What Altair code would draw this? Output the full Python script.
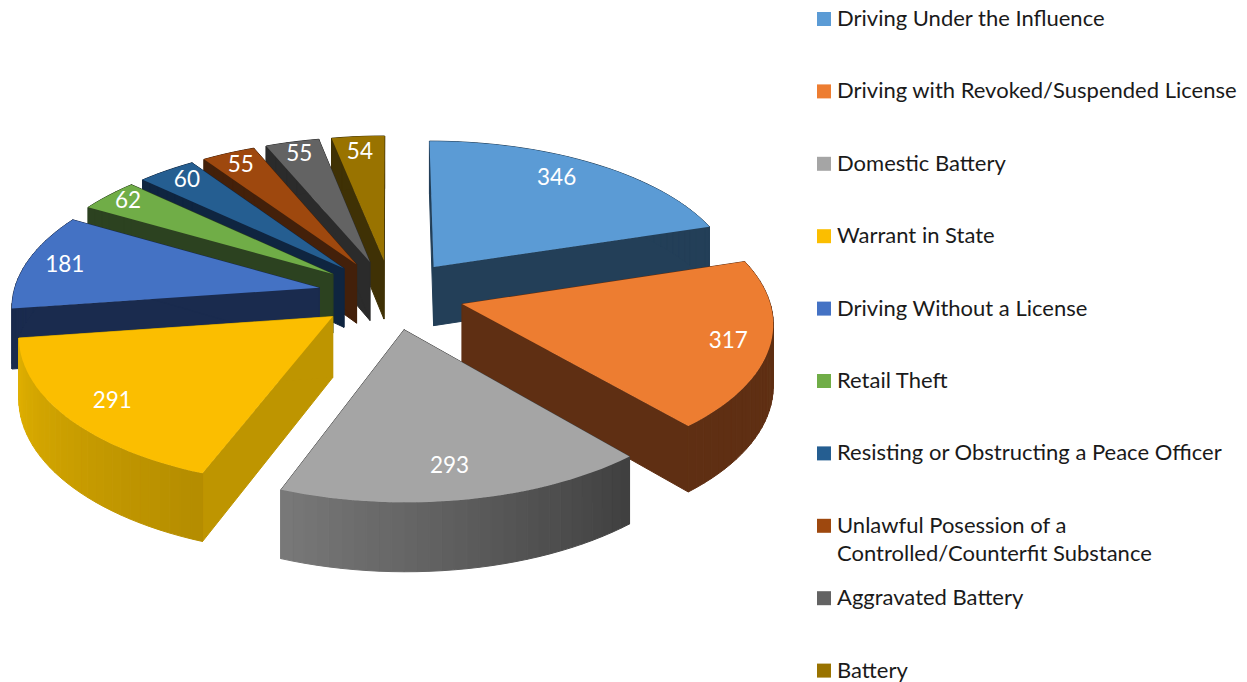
import math
import altair as alt

names = ["Driving Under the Influence", "Driving with Revoked/Suspended License", "Domestic Battery",
         "Warrant in State", "Driving Without a License", "Retail Theft",
         "Resisting or Obstructing a Peace Officer",
         "Unlawful Posession of a", "Aggravated Battery", "Battery"]
wrapped_line = "Controlled/Counterfit Substance"
values = [346, 317, 293, 291, 181, 62, 60, 55, 55, 54]
top_colors = ["#5B9BD5", "#ED7D31", "#A5A5A5", "#FBBE00", "#4472C4", "#70AD47", "#255E91", "#9E480E", "#636363", "#997300"]
radial_wall = ["#233F58", "#5F2F13", "#404040", "#BE9500", "#1A2B4E", "#2C4220", "#0F2540", "#43200A", "#2B2B2B", "#3F3105"]
wall_a = ["#233F58", "#5F2F13", "#404040", "#B58D00", "#1A2B4E", "#2C4220", "#0F2540", "#43200A", "#2B2B2B", "#3F3105"]
wall_b = ["#233F58", "#5F2F13", "#787878", "#E0B000", "#1A2B4E", "#2C4220", "#0F2540", "#43200A", "#2B2B2B", "#3F3105"]

# projection of the tilted 3-D pie
CX, CY, RX, RY, K, H, EX = 391.0, 293.4, 306.0, 145.3, 0.11, 60.0, 0.24
OFF = 8


def proj(X, Y, z=0.0):
    w = 1 / (1 - K * Y)
    return [CX + RX * X * w, CY + RY * Y * w + z * H * w]


def pt(ang, r, bis):
    a, b = math.radians(ang), math.radians(bis)
    return (EX * math.sin(b) + r * math.sin(a), -EX * math.cos(b) - r * math.cos(a))


def hexmix(c1, c2, t):
    p = [int(c1[i:i + 2], 16) for i in (1, 3, 5)]
    q = [int(c2[i:i + 2], 16) for i in (1, 3, 5)]
    return "#%02x%02x%02x" % tuple(round(p[i] + (q[i] - p[i]) * t) for i in range(3))


def feat(poly, **props):
    return {"type": "Feature", "geometry": {"type": "Polygon", "coordinates": [poly + [poly[0]]]}, "properties": props}


total = sum(values)
spans = []
acc = 0
for v in values:
    spans.append((acc / total * 360, (acc + v) / total * 360))
    acc += v

paint = [9, 8, 7, 6, 5, 0, 4, 1, 3, 2]
wall_feats, top_feats, labels = [], [], []
label_r = [0.80, 0.83, 0.82, 0.84, 0.85, 0.89, 0.865, 0.87, 0.86, 0.835]
label_nudge = [(-7, -5), (12, 2), (-5, 0), (0, 1), (-6, 0), (-4, -3), (-2, -3), (-3, -2), (-3, -3), (-2, -3)]
for i in paint:
    a0, a1 = spans[i]
    bis = (a0 + a1) / 2
    steps = max(4, int((a1 - a0) / 2))
    angs = [a0 + (a1 - a0) * s / steps for s in range(steps + 1)]
    apex = pt(0, 0, bis)
    for ang in (a0, a1):
        P = pt(ang, 1, bis)
        wall_feats.append(feat([proj(*apex), proj(*P), proj(*P, 1), proj(*apex, 1)], fill=radial_wall[i]))
    for s in range(steps):
        P, Q = pt(angs[s], 1, bis), pt(angs[s + 1], 1.0, bis)
        col = hexmix(wall_a[i], wall_b[i], s / max(1, steps - 1))
        wall_feats.append(feat([proj(*P), proj(*Q), proj(*Q, 1), proj(*P, 1)], fill=col))
    top = [proj(*apex)] + [proj(*pt(x, 1, bis)) for x in angs]
    top_feats.append(feat(top, name=names[i]))
    lx, ly = proj(*pt(bis, label_r[i], bis))
    labels.append({"x": lx + label_nudge[i][0], "y": ly + label_nudge[i][1], "t": str(values[i])})

walls = alt.Chart(alt.InlineData(values=wall_feats)).mark_geoshape(strokeWidth=1, opacity=1).encode(
    fill=alt.Fill("properties.fill:N", scale=None),
    stroke=alt.Stroke("properties.fill:N", scale=None),
).project(type="identity", scale=1, translate=[-OFF, -OFF])

tops = alt.Chart(alt.InlineData(values=top_feats)).mark_geoshape(strokeWidth=0, opacity=1).encode(
    color=alt.Color("properties.name:N", sort=names,
                    scale=alt.Scale(domain=names, range=top_colors),
                    legend=alt.Legend(title=None, orient="none", legendX=805, legendY=-1, padding=0,
                                      symbolType="square", symbolSize=196, symbolStrokeWidth=0,
                                      labelFont="Lato", labelFontSize=22, labelColor="#1a1a1a",
                                      labelLimit=1000, labelOffset=2, rowPadding=50.4, columns=1)),
).project(type="identity", scale=1, translate=[-OFF, -OFF])

text = alt.Chart(alt.InlineData(values=labels)).mark_text(
    font="Lato", fontSize=22.5, color="white").encode(
    longitude="x:Q", latitude="y:Q", text="t:N",
).project(type="identity", scale=1, translate=[-OFF, -OFF])

wrap = alt.Chart(alt.InlineData(values=[{"x": 837, "y": 553, "t": wrapped_line}])).mark_text(
    font="Lato", fontSize=22, color="#1a1a1a", align="left").encode(
    longitude="x:Q", latitude="y:Q", text="t:N",
).project(type="identity", scale=1, translate=[-OFF, -OFF])

chart = alt.layer(walls, tops, text, wrap).resolve_scale(color="independent").properties(
    width=1231, height=666, padding=0, background="white"
).configure_view(stroke=None)

chart.save("out.html", embed_options={"renderer": "svg", "actions": False})
